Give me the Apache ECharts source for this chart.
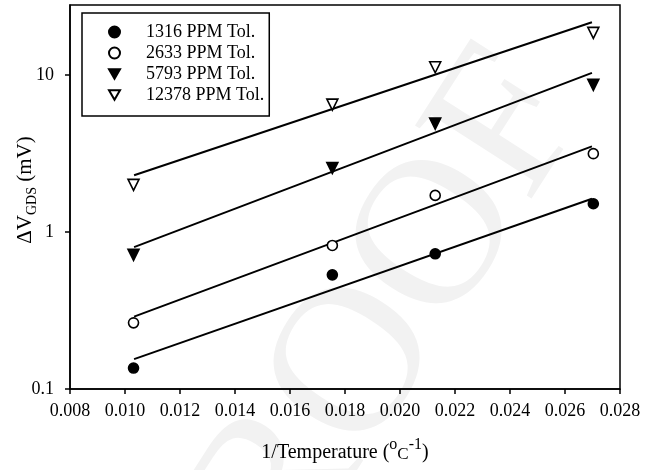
<!DOCTYPE html>
<html>
<head>
<meta charset="utf-8">
<script src="https://cdn.jsdelivr.net/npm/echarts@6/dist/echarts.min.js"></script>
<style>html,body{margin:0;padding:0;background:#fff}#c{width:656px;height:470px}</style>
</head>
<body>
<div id="c"></div>
<script>
// 1/Temperature values (1/°C)
const invTemp = [0.01031, 0.01754, 0.02128, 0.02703];
// measured ΔV_GDS (mV)
const s1316 = [0.136, 0.534, 0.727, 1.515];
const s2633 = [0.264, 0.822, 1.713, 3.16];
const s5793 = [0.716, 2.56, 4.91, 8.67];
const s12378 = [2.0, 6.49, 11.23, 18.6];
// fitted line end points (x at first/last temperature)
const fitX = [0.01033, 0.02698];
const fit1316 = [0.155, 1.632];
const fit2633 = [0.289, 3.52];
const fit5793 = [0.802, 10.34];
const fit12378 = [2.30, 21.75];
const names = ['1316 PPM Tol.', '2633 PPM Tol.', '5793 PPM Tol.', '12378 PPM Tol.'];
const yTicks = [0.1, 1, 10];

const serif = 'Liberation Serif';
const pts = arr => invTemp.map((x, i) => [x, arr[i]]);
const fit = arr => fitX.map((x, i) => [x, arr[i]]);

const downTri = 'path://M0,0L10,0L5,8.66Z';
const markers = [
  { symbol: 'circle', size: 10, fill: '#000', rot: 0, icon: 'circle' },
  { symbol: 'circle', size: 10, fill: '#fff', rot: 0, icon: 'circle' },
  { symbol: 'triangle', size: 11, fill: '#000', rot: 180, icon: downTri },
  { symbol: 'triangle', size: 11, fill: '#fff', rot: 180, icon: downTri }
];
const sData = [s1316, s2633, s5793, s12378];
const fData = [fit1316, fit2633, fit5793, fit12378];

const series = [];
fData.forEach((f, i) => {
  series.push({
    name: 'fit' + i, type: 'line', data: fit(f), symbol: 'none', silent: true,
    lineStyle: { color: '#000', width: 2 }, z: 2
  });
});
sData.forEach((s, i) => {
  const m = markers[i];
  series.push({
    name: names[i], type: 'scatter', data: pts(s),
    symbol: m.symbol, symbolSize: m.size, symbolRotate: m.rot, symbolKeepAspect: true,
    itemStyle: { color: m.fill, borderColor: '#000', borderWidth: 1.6, opacity: 1 },
    z: 3
  });
});

const chart = echarts.init(document.getElementById('c'), null, { renderer: 'canvas' });
chart.setOption({
  animation: false,
  backgroundColor: '#fff',
  graphic: [{
    type: 'text', left: 90, top: 20, rotation: 1.0, z: -10, silent: true,
    style: { text: 'PROOF', font: '210px "Liberation Serif"', fill: '#f2f2f2' }
  }],
  grid: { left: 70, right: 36, top: 5, bottom: 81, outerBoundsMode: 'none', containLabel: false,
    show: true, borderColor: '#000', borderWidth: 1.5, backgroundColor: 'transparent' },
  legend: {
    data: names.map((n, i) => ({ name: n, icon: markers[i].icon })),
    orient: 'vertical', left: 82, top: 13,
    itemWidth: 11, itemHeight: 11, itemGap: 1,
    padding: [9, 5, 11, 26],
    borderColor: '#000', borderWidth: 1.5, backgroundColor: '#fff',
    formatter: n => '{g|}' + n,
    textStyle: { fontFamily: serif, fontSize: 18, color: '#000', lineHeight: 20,
      rich: { g: { width: 21, fontSize: 18, lineHeight: 20 } } },
    symbolKeepAspect: true
  },
  xAxis: {
    type: 'value', min: 0.008, max: 0.028, interval: 0.002,
    name: '{a|1/Temperature (}{s|o}{c|C}{s|-1}{a|)}',
    nameLocation: 'middle', nameGap: 48,
    nameTextStyle: {
      rich: {
        a: { fontFamily: serif, fontSize: 20, color: '#000', lineHeight: 26, verticalAlign: 'bottom' },
        c: { fontFamily: serif, fontSize: 17, color: '#000', lineHeight: 26, verticalAlign: 'bottom' },
        s: { fontFamily: serif, fontSize: 16, color: '#000', lineHeight: 26, verticalAlign: 'top' }
      }
    },
    axisLine: { lineStyle: { color: '#000', width: 1.5 } },
    axisTick: { inside: false, length: 5, lineStyle: { color: '#000', width: 1.5 } },
    axisLabel: { fontFamily: serif, fontSize: 18, color: '#000', margin: 13, formatter: v => v.toFixed(3) },
    splitLine: { show: false }
  },
  yAxis: {
    type: 'log', logBase: 10, min: 0.1, max: 28,
    name: '{a|ΔV}{s|GDS}{a| (mV)}',
    nameLocation: 'middle', nameGap: 31, nameRotate: 90, nameMoveOverlap: false,
    nameTextStyle: {
      padding: [0, 0, 0, 14],
      rich: {
        a: { fontFamily: serif, fontSize: 21, color: '#000', lineHeight: 24, verticalAlign: 'top' },
        s: { fontFamily: serif, fontSize: 14, color: '#000', lineHeight: 24, verticalAlign: 'bottom' }
      }
    },
    axisLine: { lineStyle: { color: '#000', width: 1.5 } },
    axisTick: { inside: false, length: 5, customValues: yTicks, lineStyle: { color: '#000', width: 1.5 } },
    axisLabel: { fontFamily: serif, fontSize: 18, color: '#000', margin: 16, customValues: yTicks,
      formatter: v => String(v) },
    minorTick: { show: false },
    splitLine: { show: false }
  },
  series: series
});
</script>
</body>
</html>
